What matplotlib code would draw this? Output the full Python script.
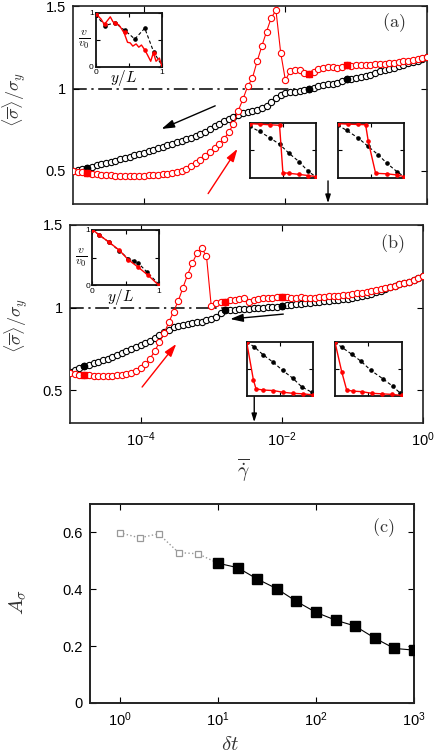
import numpy as np
import matplotlib.pyplot as plt
from matplotlib.ticker import NullLocator

plt.rcParams['font.family'] = ['Liberation Sans', 'DejaVu Sans']
plt.rcParams['mathtext.fontset'] = 'custom'
plt.rcParams['mathtext.rm'] = 'Liberation Sans'
plt.rcParams['mathtext.it'] = 'Liberation Sans:italic'
plt.rcParams['mathtext.bf'] = 'Liberation Sans:bold'

# ---- data: flow curves (shear rate grid, 15 points per decade) ----
gdot = np.logspace(-5, 0, 76)

sig_a_black = [0.500, 0.507, 0.513, 0.520, 0.527, 0.534, 0.541, 0.548, 0.555, 0.562,
               0.570, 0.578, 0.586, 0.594, 0.602, 0.610, 0.619, 0.628, 0.637, 0.646,
               0.655, 0.664, 0.673, 0.683, 0.693, 0.703, 0.714, 0.725, 0.737, 0.752,
               0.770, 0.787, 0.803, 0.818, 0.830, 0.840, 0.850, 0.860, 0.866, 0.872,
               0.880, 0.895, 0.918, 0.943, 0.963, 0.974, 0.978, 0.980, 0.983, 0.990,
               1.000, 1.006, 1.014, 1.020, 1.025, 1.029, 1.036, 1.045, 1.055, 1.060,
               1.065, 1.070, 1.075, 1.084, 1.094, 1.104, 1.112, 1.120, 1.127, 1.135,
               1.143, 1.152, 1.160, 1.169, 1.179, 1.190]
sig_a_red = [0.500, 0.496, 0.492, 0.488, 0.483, 0.479, 0.476, 0.474, 0.473, 0.472,
             0.471, 0.471, 0.471, 0.471, 0.472, 0.472, 0.473, 0.475, 0.477, 0.480,
             0.484, 0.489, 0.495, 0.503, 0.513, 0.530, 0.548, 0.568, 0.592, 0.616,
             0.640, 0.665, 0.695, 0.735, 0.785, 0.865, 0.935, 1.013, 1.062, 1.164,
             1.256, 1.345, 1.428, 1.474, 1.217, 1.050, 1.105, 1.112, 1.110, 1.092,
             1.086, 1.100, 1.118, 1.125, 1.128, 1.130, 1.127, 1.131, 1.140, 1.137,
             1.140, 1.144, 1.145, 1.142, 1.146, 1.149, 1.151, 1.153, 1.156, 1.160,
             1.164, 1.168, 1.172, 1.177, 1.183, 1.192]
filled_a = [3, 50, 58]

sig_b_black = [0.612, 0.622, 0.632, 0.643, 0.652, 0.661, 0.670, 0.680, 0.690, 0.700,
               0.711, 0.722, 0.734, 0.746, 0.758, 0.772, 0.786, 0.800, 0.815, 0.832,
               0.850, 0.866, 0.879, 0.888, 0.895, 0.900, 0.905, 0.910, 0.915, 0.922,
               0.930, 0.945, 0.965, 0.986, 0.982, 0.985, 0.988, 0.990, 0.993, 0.995,
               0.997, 0.999, 1.001, 1.003, 1.006, 1.010, 1.013, 1.016, 1.019, 1.022,
               1.025, 1.028, 1.031, 1.034, 1.037, 1.041, 1.045, 1.048, 1.051, 1.054,
               1.058, 1.063, 1.069, 1.076, 1.084, 1.093, 1.103, 1.113, 1.123, 1.132,
               1.140, 1.148, 1.157, 1.167, 1.178, 1.190]
sig_b_red = [0.602, 0.597, 0.593, 0.590, 0.588, 0.587, 0.586, 0.586, 0.586, 0.587,
             0.589, 0.592, 0.597, 0.605, 0.617, 0.635, 0.655, 0.690, 0.735, 0.790,
             0.845, 0.910, 0.975, 1.040, 1.120, 1.200, 1.270, 1.330, 1.360, 1.310,
             1.010, 1.028, 1.034, 1.036, 1.048, 1.044, 1.052, 1.058, 1.035, 1.048,
             1.050, 1.055, 1.058, 1.060, 1.062, 1.065, 1.062, 1.060, 1.058, 1.062,
             1.060, 1.058, 1.060, 1.062, 1.065, 1.068, 1.070, 1.072, 1.075, 1.078,
             1.081, 1.085, 1.090, 1.095, 1.100, 1.105, 1.112, 1.118, 1.125, 1.132,
             1.140, 1.148, 1.157, 1.167, 1.178, 1.190]
filled_b = [3, 33, 45]

# ---- data: velocity profile insets (y/L, v/v0) ----
ia0_red_u = [0.0, 0.04, 0.08, 0.13, 0.17, 0.22, 0.26, 0.30, 0.35, 0.39, 0.43, 0.48,
             0.52, 0.56, 0.61, 0.65, 0.69, 0.74, 0.78, 0.83, 0.87, 0.91, 0.96, 1.0]
ia0_red_v = [1.0, 0.93, 0.88, 0.78, 0.84, 0.92, 0.83, 0.80, 0.77, 0.70, 0.62, 0.45,
             0.44, 0.38, 0.42, 0.36, 0.40, 0.31, 0.22, 0.10, 0.26, 0.10, 0.16, 0.0]
ia0_rdot_u = [0.0, 0.14, 0.29, 0.44, 0.74, 0.875]
ia0_rdot_v = [0.98, 0.78, 0.81, 0.64, 0.31, 0.25]
ia0_blk_u = [0.0, 0.14, 0.29, 0.44, 0.59, 0.74, 0.875, 1.0]
ia0_blk_v = [0.95, 0.76, 0.81, 0.67, 0.51, 0.71, 0.27, 0.02]

ia1_red_u = [0.0, 0.15, 0.30, 0.45, 0.50, 0.59, 0.74, 0.875, 1.0]
ia1_red_v = [0.98, 0.97, 0.96, 0.95, 0.10, 0.09, 0.07, 0.05, 0.03]
ia1_blk_u = [0.0, 0.15, 0.30, 0.45, 0.59, 0.74, 0.875, 1.0]
ia1_blk_v = [0.93, 0.84, 0.73, 0.61, 0.45, 0.30, 0.13, 0.02]

ia2_red_u = [0.0, 0.16, 0.31, 0.42, 0.46, 0.57, 0.74, 0.89, 1.0]
ia2_red_v = [0.98, 0.97, 0.965, 0.96, 0.66, 0.09, 0.08, 0.06, 0.03]
ia2_blk_u = [0.0, 0.135, 0.31, 0.46, 0.61, 0.74, 0.89, 1.0]
ia2_blk_v = [0.95, 0.86, 0.72, 0.57, 0.42, 0.27, 0.12, 0.03]

ib0_red_u = [0.0, 0.105, 0.255, 0.405, 0.54, 0.69, 0.84, 1.0]
ib0_red_v = [1.0, 0.90, 0.77, 0.63, 0.46, 0.325, 0.18, 0.0]
ib0_blk_u = [0.0, 0.105, 0.255, 0.405, 0.54, 0.62, 0.69, 0.815, 1.0]
ib0_blk_v = [1.0, 0.90, 0.77, 0.62, 0.48, 0.44, 0.40, 0.245, 0.02]

ib1_red_u = [0.0, 0.10, 0.14, 0.25, 0.40, 0.54, 0.69, 0.84, 1.0]
ib1_red_v = [0.99, 0.30, 0.13, 0.11, 0.10, 0.07, 0.05, 0.04, 0.02]
ib1_blk_u = [0.0, 0.11, 0.25, 0.40, 0.54, 0.69, 0.825, 0.975]
ib1_blk_v = [0.99, 0.91, 0.755, 0.62, 0.47, 0.33, 0.17, 0.07]

ib2_red_u = [0.0, 0.10, 0.175, 0.265, 0.40, 0.55, 0.70, 0.85, 1.0]
ib2_red_v = [0.99, 0.45, 0.11, 0.09, 0.08, 0.05, 0.04, 0.03, 0.01]
ib2_blk_u = [0.0, 0.10, 0.25, 0.39, 0.54, 0.715, 0.865, 0.98]
ib2_blk_v = [0.99, 0.90, 0.77, 0.64, 0.47, 0.32, 0.18, 0.05]

# ---- data: panel (c) ----
dt = [1, 1.6, 2.5, 4, 6.3, 10, 16, 25, 40, 63, 100, 160, 250, 400, 630, 1000]
A_sigma = [0.599, 0.581, 0.595, 0.529, 0.525, 0.492, 0.476, 0.437, 0.402, 0.358,
           0.319, 0.291, 0.271, 0.228, 0.192, 0.186]
n_open = 5

RED = '#ff0000'
W, H = 436, 755
fig = plt.figure(figsize=(W / 100, H / 100), dpi=100)


def box(x0, y0, x1, y1):
    # axes from pixel corners (top-left origin)
    return fig.add_axes([x0 / W, 1 - y1 / H, (x1 - x0) / W, (y1 - y0) / H])


def style(ax, lw=1.2):
    ax.tick_params(direction='in', which='both', top=True, right=True,
                   length=4, width=0.8, labelsize=10.5, pad=5)
    for s in ax.spines.values():
        s.set_linewidth(lw)
        s.set_color('#222222')


def flow_panel(ax, black, red, filled, dd_end):
    ax.set_xscale('log')
    ax.plot([1e-5, dd_end], [1, 1], color='k', lw=1.1, dashes=(9, 3, 1.5, 3), zorder=1)
    ax.plot(gdot, black, '-', color='k', lw=0.6, marker='o', ms=4.5,
            mfc='white', mec='k', mew=0.8, zorder=2)
    ax.plot(gdot[filled], np.array(black)[filled], 'o', color='k', ms=4.5, zorder=3)
    ax.plot(gdot, red, '-', color=RED, lw=0.8, marker='o', ms=4.5,
            mfc='white', mec=RED, mew=0.8, zorder=4)
    ax.plot(gdot[filled], np.array(red)[filled], 's', color=RED, ms=4.0, zorder=5)
    ax.set_xlim(1e-5, 1)
    ax.set_ylim(0.3, 1.5)
    ax.set_yticks([0.5, 1, 1.5])
    ax.set_yticklabels(['0.5', '1', '1.5'])
    ax.set_xticks([1e-4, 1e-2, 1])
    ax.xaxis.set_minor_locator(NullLocator())
    style(ax)
    ax.set_ylabel(r'$\langle\overline{\sigma}\rangle/\sigma_y$', fontsize=13,
                  color='#333333', math_fontfamily='cm', va='center')


def arrow(ax, head, tail, color, ms=11):
    ax.annotate('', xy=head, xytext=tail,
                arrowprops=dict(arrowstyle='-|>,head_length=0.7,head_width=0.22',
                                color=color, lw=1.0, mutation_scale=ms,
                                shrinkA=0, shrinkB=0))


def profile(ax, ru, rv, bu, bv, rdu=None, rdv=None, labels=False):
    ax.plot(bu, bv, '--', color='k', lw=0.8, dashes=(3, 2), marker='o', ms=2.3, zorder=2)
    ax.plot(ru, rv, '-', color=RED, lw=1.0, zorder=3)
    if rdu is None:
        rdu, rdv = ru, rv
    ax.plot(rdu, rdv, 'o', color=RED, ms=2.3, zorder=4)
    ax.set_xlim(0, 1)
    ax.set_ylim(0, 1)
    ax.tick_params(direction='in', top=True, right=True, length=3, width=0.8,
                   labelsize=6, pad=1.5)
    for s in ax.spines.values():
        s.set_linewidth(1.3)
        s.set_color('#111111')
    if labels:
        ax.set_xticks([0, 0.5, 1])
        ax.set_xticklabels(['0', '', '1'])
        ax.set_yticks([0, 0.5, 1])
        ax.set_yticklabels(['0', '', '1'])
        ax.set_xlabel(r'$y/L$', fontsize=11, math_fontfamily='cm', labelpad=0)
        ax.set_ylabel(r'$\frac{v}{v_0}$', fontsize=12, rotation=0,
                      math_fontfamily='cm', va='center', ha='center')
        ax.yaxis.set_label_coords(-0.17, 0.5)
        ax.xaxis.set_label_coords(0.42, -0.03)
    else:
        ax.set_xticks([0.5])
        ax.set_yticks([0.5])
        ax.set_xticklabels([])
        ax.set_yticklabels([])


# ---- panel (a) ----
ax_a = box(73, 6, 427, 204)
flow_panel(ax_a, sig_a_black, sig_a_red, filled_a, 0.028)
ax_a.set_xticklabels([])
ax_a.yaxis.set_label_coords(-0.165, 0.53)
ax_a.text(0.907, 0.914, r'$\mathrm{(a)}$', transform=ax_a.transAxes, fontsize=13,
          ha='center', va='center', math_fontfamily='cm', color='#333333')
arrow(ax_a, (1.78e-4, 0.755), (1.02e-3, 0.895), 'k')
arrow(ax_a, (2.1e-3, 0.634), (8.1e-4, 0.363), RED)
arrow(ax_a, (0.04, 0.305), (0.04, 0.44), 'k', ms=7)

profile(box(95.7, 12.5, 162, 66.7), ia0_red_u, ia0_red_v, ia0_blk_u, ia0_blk_v,
        ia0_rdot_u, ia0_rdot_v, labels=True)
profile(box(249.5, 122.5, 316.3, 178.3), ia1_red_u, ia1_red_v, ia1_blk_u, ia1_blk_v)
profile(box(337.7, 122.5, 404.2, 178.3), ia2_red_u, ia2_red_v, ia2_blk_u, ia2_blk_v)

# ---- panel (b) ----
ax_b = box(70, 225, 423, 423)
flow_panel(ax_b, sig_b_black, sig_b_red, filled_b, 1.86e-3)
ax_b.yaxis.set_label_coords(-0.153, 0.49)
ax_b.set_xlabel(r'$\overline{\dot{\gamma}}$', fontsize=14, math_fontfamily='cm',
                color='#333333')
ax_b.xaxis.set_label_coords(0.49, -0.17)
ax_b.text(0.912, 0.908, r'$\mathrm{(b)}$', transform=ax_b.transAxes, fontsize=13,
          ha='center', va='center', math_fontfamily='cm', color='#333333')
arrow(ax_b, (3.2e-4, 0.779), (1.05e-4, 0.518), RED)
arrow(ax_b, (1.86e-3, 0.93), (1.05e-2, 0.96), 'k')
arrow(ax_b, (4.07e-3, 0.305), (4.07e-3, 0.46), 'k', ms=7)

profile(box(92.3, 229.5, 159, 285.5), ib0_red_u, ib0_red_v, ib0_blk_u, ib0_blk_v,
        labels=True)
profile(box(246.7, 341.7, 313.3, 396), ib1_red_u, ib1_red_v, ib1_blk_u, ib1_blk_v)
profile(box(335, 341.7, 401.7, 396), ib2_red_u, ib2_red_v, ib2_blk_u, ib2_blk_v)

# ---- panel (c) ----
ax_c = box(90, 504, 414, 703)
ax_c.set_xscale('log')
ax_c.plot(dt[:n_open + 1], A_sigma[:n_open + 1], ':', color='#999999', lw=1.0, zorder=1)
ax_c.plot(dt[:n_open], A_sigma[:n_open], 's', ms=5, mfc='white', mec='#999999',
          mew=0.9, zorder=2)
ax_c.plot(dt[n_open:], A_sigma[n_open:], '-', color='k', lw=0.8, marker='s', ms=6.5,
          mfc='k', mec='k', zorder=3)
ax_c.set_xlim(0.5, 1000)
ax_c.set_ylim(0, 0.7)
ax_c.set_xticks([1, 10, 100, 1000])
ax_c.xaxis.set_minor_locator(NullLocator())
ax_c.set_yticks([0, 0.2, 0.4, 0.6])
ax_c.set_yticklabels(['0', '0.2', '0.4', '0.6'])
style(ax_c, lw=1.4)
ax_c.set_xlabel(r'$\delta t$', fontsize=15, math_fontfamily='cm', color='#333333')
ax_c.set_ylabel(r'$A_\sigma$', fontsize=15, math_fontfamily='cm', color='#333333',
                va='center')
ax_c.xaxis.set_label_coords(0.432, -0.16)
ax_c.yaxis.set_label_coords(-0.225, 0.507)
ax_c.text(0.904, 0.879, r'$\mathrm{(c)}$', transform=ax_c.transAxes, fontsize=13,
          ha='center', va='center', math_fontfamily='cm', color='#333333')

fig.savefig('out.png', dpi=100)
